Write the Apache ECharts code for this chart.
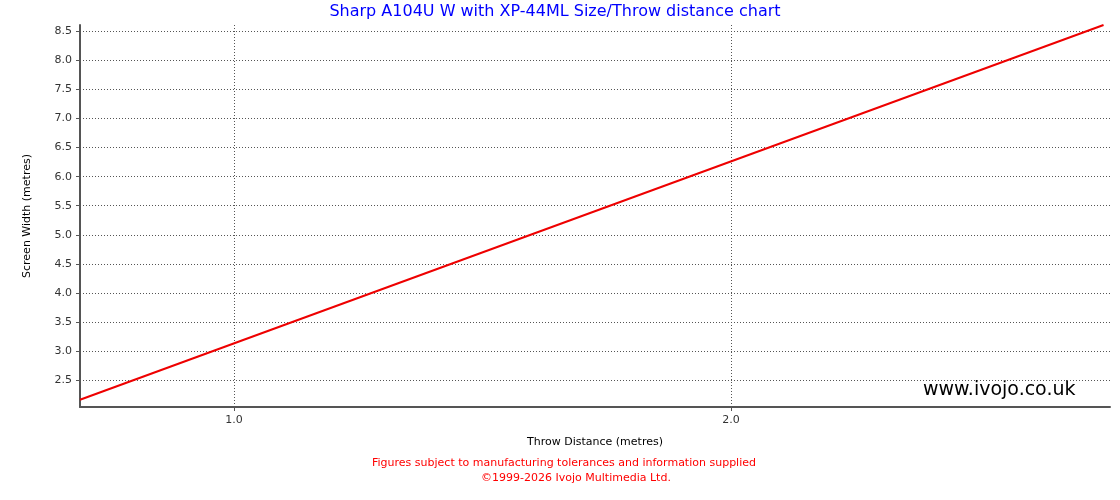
<!DOCTYPE html><html><head><meta charset="utf-8"><script src="https://cdn.jsdelivr.net/npm/echarts@6/dist/echarts.min.js"></script></head><body style="margin:0"><div id="c" style="width:1120px;height:500px"></div><script>
const throwDist=[0.69,2.75];
const screenWidth=[2.16,8.61];
const yTicks=[2.5,3.0,3.5,4.0,4.5,5.0,5.5,6.0,6.5,7.0,7.5,8.0,8.5];
const xTicks=[1.0,2.0];
const ch=echarts.init(document.getElementById('c'));
const f='DejaVu Sans';
ch.setOption({animation:false,
title:{text:'Sharp A104U W with XP-44ML Size/Throw distance chart',left:550,textAlign:'center',top:-1,textStyle:{color:'#0000ff',fontSize:16,fontWeight:'normal',fontFamily:f}},
grid:{left:80,right:10,top:25,bottom:93},
xAxis:{type:'value',min:0.69,max:2.763,name:'Throw Distance (metres)',nameLocation:'middle',nameGap:30,nameTextStyle:{fontFamily:f,fontSize:11,color:'#000'},
 axisLine:{onZero:false,lineStyle:{color:'#555',width:2}},axisTick:{customValues:xTicks,length:4,lineStyle:{color:'#555'}},
 axisLabel:{customValues:xTicks,formatter:v=>v.toFixed(1),fontFamily:f,fontSize:11,color:'#333'},
 splitLine:{show:true,lineStyle:{color:'#555',type:[1,2]}}},
yAxis:{type:'value',min:2.036,max:8.61,name:'Screen Width (metres)',nameLocation:'middle',nameGap:47,nameTextStyle:{fontFamily:f,fontSize:11,color:'#000'},
 axisLine:{show:true,lineStyle:{color:'#555',width:2}},axisTick:{show:true,customValues:yTicks,length:4,lineStyle:{color:'#555'}},
 axisLabel:{customValues:yTicks,formatter:v=>v.toFixed(1),fontFamily:f,fontSize:11,color:'#333'},
 splitLine:{show:true,lineStyle:{color:'#555',type:[1,2]}}},
series:[{type:'line',data:throwDist.map((x,i)=>[x,screenWidth[i]]),symbol:'none',lineStyle:{color:'#ee0000',width:2}}],
graphic:[
{type:'text',x:923,y:381,style:{text:'www.ivojo.co.uk',font:'19px "DejaVu Sans"',fill:'#000'}},
{type:'text',x:564,y:458,style:{text:'Figures subject to manufacturing tolerances and information supplied',font:'11px "DejaVu Sans"',fill:'#ff0000',align:'center'}},
{type:'text',x:576,y:473,style:{text:'©1999-2026 Ivojo Multimedia Ltd.',font:'11px "DejaVu Sans"',fill:'#ff0000',align:'center'}}
]});
</script></body></html>
